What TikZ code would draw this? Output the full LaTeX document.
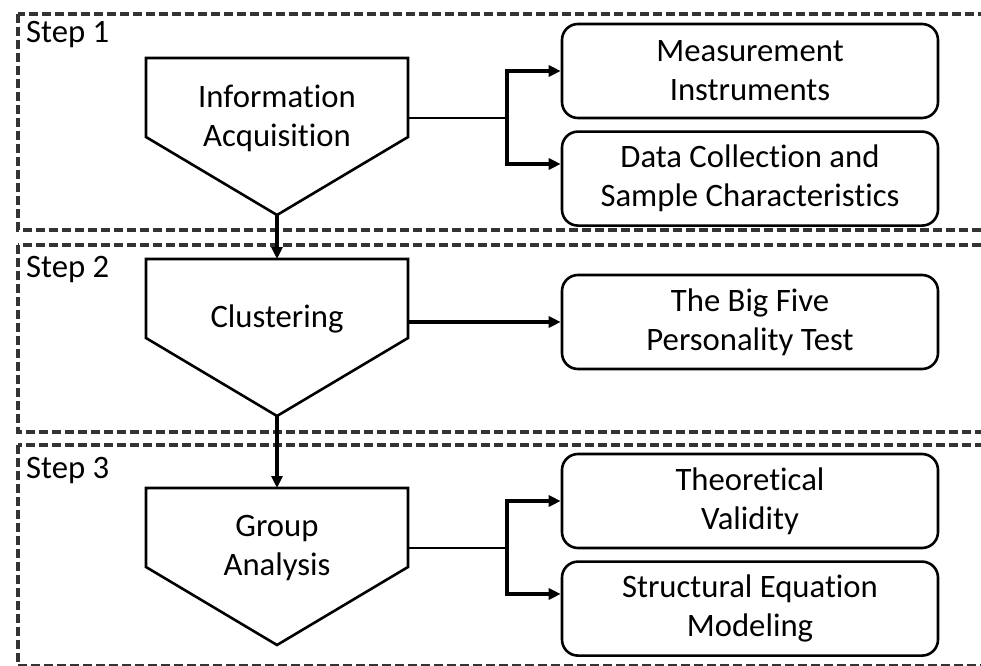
\documentclass[tikz,border=0pt]{standalone}
\usepackage{fontspec}
\setmainfont{Carlito}[Ligatures=CommonOff]
\usetikzlibrary{positioning,arrows.meta,calc}

\begin{document}
\begin{tikzpicture}[x=1bp,y=-1bp,node distance=11bp,
  every node/.style={font=\fontsize{32.7bp}{39bp}\selectfont,inner sep=0pt},
  frame/.style={draw=black!80,line width=3.2bp,dash pattern=on 9bp off 4bp},
  stage/.style={draw,line width=2.6bp},
  task/.style={draw,line width=2.6bp,rounded corners=16bp,minimum width=376bp,minimum height=94bp,align=center},
  stem/.style={line width=2.4bp},
  fork/.style={line width=3.8bp,-{Triangle[length=12bp,width=11bp]}},
  flow/.style={line width=3.6bp,-{Triangle[length=12bp,width=11bp]}}]

\useasboundingbox (0,0) rectangle (981,666);

% dashed frames of the three steps
\draw[frame] (18,14) rectangle (995,230);
\draw[frame] (18,245) rectangle (995,432);
\draw[frame] (18,445) rectangle (995,666);

\node[anchor=base west] (s1) at (26,43) {Step 1};
\node[anchor=base west] (s2) at (26,277) {Step 2};
\node[anchor=base west] (s3) at (26,478) {Step 3};

% stages
\node[align=center] (acq) at (277,118) {Information\\Acquisition};
\node[align=center] (clu) at (277,319) {Clustering};
\node[align=center] (grp) at (277,548) {Group\\Analysis};

\foreach \s in {acq,clu,grp}
{
\coordinate (\s-top) at ($(\s)+(0,-60)$);
\coordinate (\s-tip) at ($(\s)+(0,97)$);
\coordinate (\s-out) at ($(\s)+(131,0)$);
\draw[stage] ($(\s)+(-131,-60)$) -- ($(\s)+(131,-60)$) -- ($(\s)+(131,19)$) -- (\s-tip) -- ($(\s)+(-131,19)$) -- cycle;
}

\draw[flow] (acq-tip) -- (clu-top);
\draw[flow] (clu-tip) -- (grp-top);

% outcomes
\node[task] (meas) at (750,71) {Measurement\\Instruments};
\node[task,below=of meas] (data) {Data Collection and\\Sample Characteristics};
\node[task] (bigfive) at (750,322) {The Big Five\\Personality Test};
\node[task] (theo) at (750,501) {Theoretical\\Validity};
\node[task,below=of theo] (sem) {Structural Equation\\Modeling};

% step 1
\coordinate (fork1) at ($(acq-out)+(99,0)$);
\draw[stem] (acq-out) -- (fork1);
\draw[fork] (fork1) |- (meas.west);
\draw[fork] (fork1) -- ++(0,46) coordinate (low1) -- (low1 -| data.west);

% step 2
\draw[flow] (bigfive.west -| clu-out) -- (bigfive.west);

% step 3
\coordinate (fork3) at ($(grp-out)+(99,0)$);
\draw[stem] (grp-out) -- (fork3);
\draw[fork] (fork3) |- (theo.west);
\draw[fork] (fork3) -- ++(0,46) coordinate (low3) -- (low3 -| sem.west);
\end{tikzpicture}
\end{document}
